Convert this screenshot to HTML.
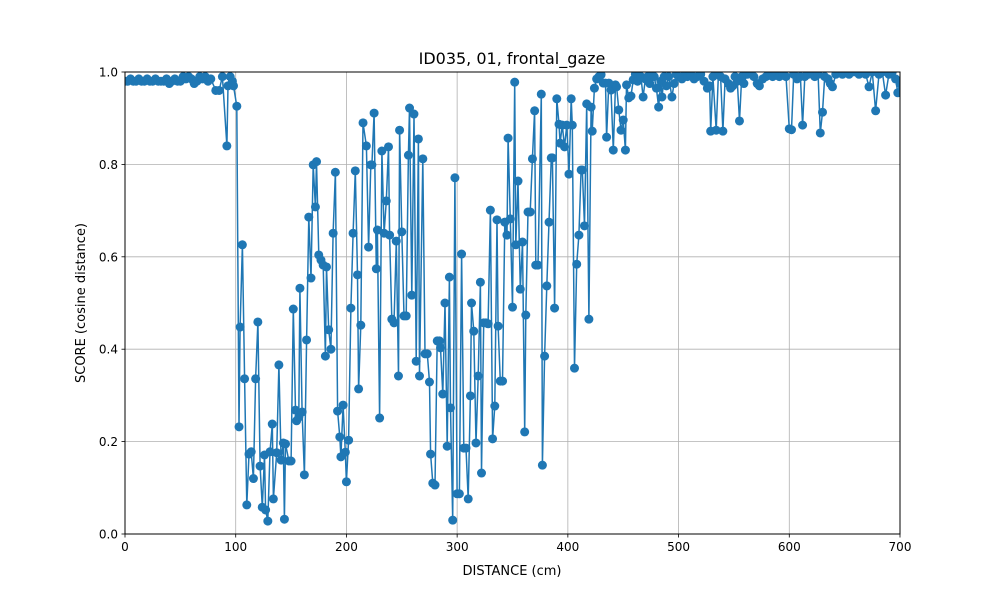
<!DOCTYPE html>
<html><head><meta charset="utf-8"><style>
body{margin:0;background:#fff}
svg{display:block;font-family:"DejaVu Sans","Liberation Sans",sans-serif}
</style></head><body>
<svg id="chart" width="1000" height="600" viewBox="0 0 1000 600" xmlns="http://www.w3.org/2000/svg">
<rect width="1000" height="600" fill="#fff"/>
<defs><clipPath id="pc"><rect x="125" y="72" width="775" height="462"/></clipPath></defs>
<g id="grid"></g>
<g id="series" clip-path="url(#pc)"></g>
<rect x="125" y="72" width="775" height="462" fill="none" stroke="#000" stroke-width="1"/>
<g id="ticks"></g>
<text x="512" y="64" font-size="16" text-anchor="middle">ID035, 01, frontal_gaze</text>
<text x="512" y="575" font-size="13" text-anchor="middle">DISTANCE (cm)</text>
<text x="85" y="303" font-size="13" text-anchor="middle" transform="rotate(-90 85 303)">SCORE (cosine distance)</text>
</svg>
<script>
const xTicks=[0,100,200,300,400,500,600,700];
const yTicks=[0,0.2,0.4,0.6,0.8,1.0];
const yTickLabels=["0.0","0.2","0.4","0.6","0.8","1.0"];
const xs=[0,2.5,5,7.5,10,12.5,15,17.5,20,22.5,25,27.5,30,32.5,35,37.5,40,42.5,45,47.5,50,52.5,55,57.5,60,62.5,65,67.5,70,72.5,75,77.5,82,85,88,92,93,95,97,98,101,
103,104,106,108,110,112,114,116,118,120,122,124,126,127,129,131,133,134,137,139,141,143,144,145,148,150,152,154,155,157,158,160,162,164,166,168,170,172,173,175,177,179,181,182,184,186,188,190,192,194,195,197,199,200,202,204,206,208,210,211,213,215,218,220,222,223,225,227,228,230,232,234,236,238,239,241,243,245,247,248,250,252,254,256,257,259,261,263,265,266,269,271,273,275,276,278,280,282,284,285,287,289,291,293,294,296,298,300,302,304,306,308,310,312,313,315,317,319,321,322,324,326,328,330,332,334,336,337,339,341,343,345,346,348,350,352,353,355,357,359,361,362,364,366,368,370,371,373,376,377,379,381,383,385,386,388,390,392,393,395,397,399,401,403,404,406,408,410,412,413,415,417,419,421,422,424,426,428,430,432,434,435,437,439,441,443,444,446,448,450,452,453,455,457,459,
461,463,466,468,470,472,474,476,478,480,482,484,485,487,489,491,494,496,498,500,503,506,508,511,514,517,520,523,526,528,529,531,534,536,538,540,542,545,547,549,551,553,555,557,559,562,565,568,571,573,576,579,582,585,588,591,594,597,600,602,604,607,610,612,614,617,620,623,626,628,630,632,635,637,639,642,645,648,651,654,657,660,663,666,669,672,675,678,681,684,687,690,693,696,698,700];
const ys=[0.98,0.98,0.985,0.98,0.98,0.985,0.98,0.98,0.985,0.98,0.98,0.985,0.98,0.98,0.98,0.985,0.975,0.98,0.985,0.98,0.98,0.99,0.985,0.99,0.985,0.975,0.98,0.99,0.985,0.99,0.98,0.985,0.96,0.96,0.99,0.84,0.97,0.99,0.98,0.97,0.926,
0.232,0.448,0.626,0.336,0.063,0.173,0.178,0.12,0.336,0.459,0.147,0.058,0.171,0.052,0.028,0.178,0.238,0.076,0.176,0.366,0.16,0.197,0.032,0.195,0.158,0.158,0.487,0.268,0.245,0.253,0.532,0.264,0.128,0.42,0.686,0.554,0.799,0.708,0.806,0.604,0.593,0.582,0.385,0.578,0.442,0.40,0.651,0.783,0.266,0.21,0.167,0.279,0.177,0.113,0.203,0.489,0.651,0.786,0.561,0.314,0.452,0.89,0.84,0.621,0.799,0.799,0.911,0.574,0.658,0.251,0.829,0.651,0.721,0.838,0.647,0.465,0.457,0.634,0.342,0.874,0.654,0.472,0.472,0.82,0.922,0.517,0.909,0.374,0.855,0.342,0.812,0.39,0.39,0.329,0.173,0.11,0.106,0.418,0.418,0.403,0.303,0.5,0.19,0.556,0.273,0.03,0.771,0.087,0.087,0.606,0.186,0.186,0.076,0.299,0.5,0.439,0.197,0.342,0.545,0.132,0.457,0.457,0.455,0.701,0.206,0.277,0.68,0.45,0.331,0.331,0.675,0.647,0.857,0.682,0.491,0.978,0.626,0.764,0.53,0.632,0.221,0.474,0.697,0.697,0.812,0.916,0.582,0.582,0.952,0.149,0.385,0.537,0.675,0.814,0.814,0.489,0.942,0.887,0.846,0.885,0.838,0.885,0.779,0.942,0.885,0.359,0.584,0.647,0.788,0.788,0.667,0.931,0.465,0.924,0.872,0.965,0.985,0.99,0.994,0.976,0.976,0.859,0.976,0.961,0.831,0.972,0.968,0.918,0.874,0.896,0.831,0.972,0.944,0.948,0.983,
0.995,0.98,0.99,0.946,0.985,0.99,0.975,0.995,0.99,0.965,0.924,0.98,0.946,0.99,0.97,0.99,0.946,0.975,0.995,0.99,0.985,1.0,0.99,0.995,0.985,0.99,0.995,0.98,0.965,0.97,0.872,0.99,0.874,0.995,0.99,0.872,0.985,0.975,0.965,0.97,0.99,0.98,0.894,0.99,0.975,0.995,1.0,0.99,0.975,0.97,0.985,0.99,0.995,0.99,1.0,0.99,0.995,0.99,0.877,0.875,0.995,0.985,0.99,0.885,0.99,0.995,1.0,0.99,0.995,0.868,0.913,0.99,0.985,0.975,0.968,0.995,1.0,0.995,1.0,0.995,1.0,1.0,0.995,1.0,0.995,0.968,1.0,0.916,0.995,1.0,0.95,0.995,1.0,0.985,0.955,0.975];

const NS="http://www.w3.org/2000/svg";
const L=125,R=900,T=72,B=534;
const sx=v=>L+(v-0)/(700-0)*(R-L);
const sy=v=>B-(v-0)/(1-0)*(B-T);
const grid=document.getElementById('grid'),ticks=document.getElementById('ticks'),series=document.getElementById('series');
function mk(tag,attrs,parent){const e=document.createElementNS(NS,tag);for(const k in attrs)e.setAttribute(k,attrs[k]);parent.appendChild(e);return e;}
xTicks.forEach(t=>{
  const x=sx(t);
  const g=mk('line',{x1:x,x2:x,y1:T,y2:B,stroke:'#b0b0b0','stroke-width':0.8},grid);
  
  
  const tk=mk('line',{x1:x,x2:x,y1:B,y2:B+3.5,stroke:'#000','stroke-width':0.8},ticks);
  
  
  const tx=mk('text',{x:x,y:B+17,'font-size':12,'text-anchor':'middle'},ticks);
  
  
  tx.textContent=t;
});
yTicks.forEach((t,i)=>{
  const y=sy(t);
  const g=mk('line',{x1:L,x2:R,y1:y,y2:y,stroke:'#b0b0b0','stroke-width':0.8},grid);
  
  
  const tk=mk('line',{x1:L-3.5,x2:L,y1:y,y2:y,stroke:'#000','stroke-width':0.8},ticks);
  
  
  const tx=mk('text',{x:L-7,y:y+4.5,'font-size':12,'text-anchor':'end'},ticks);
  
  
  tx.textContent=yTickLabels[i];
});
const pts=xs.map((x,i)=>sx(x).toFixed(1)+','+sy(ys[i]).toFixed(1)).join(' ');
const pl=mk('polyline',{points:pts,fill:'none',stroke:'#1f77b4','stroke-width':1.5,'stroke-linejoin':'round'},series);


xs.forEach((x,i)=>{
  const c=mk('circle',{cx:sx(x),cy:sy(ys[i]),r:4.5,fill:'#1f77b4'},series);
  
  
});
</script>
</body></html>
